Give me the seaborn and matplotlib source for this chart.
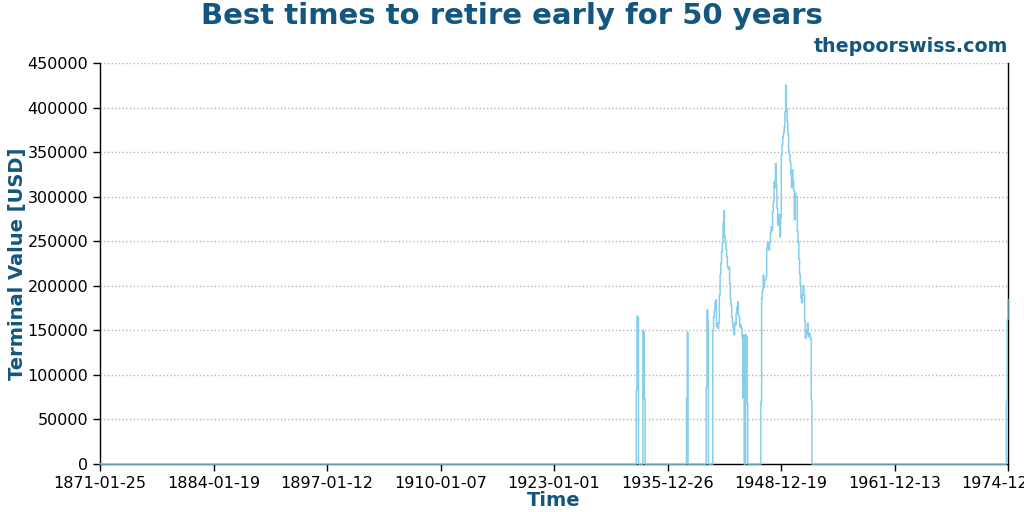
import numpy as np
import pandas as pd
import matplotlib
matplotlib.use('Agg')
import matplotlib.pyplot as plt
import matplotlib.ticker as mticker
import seaborn as sns

# monthly terminal values, zero outside the listed episodes
first_month = '1871-01-01'
last_month = '1974-12-01'

episode_starts = ['1932-06', '1933-03', '1938-03', '1940-06',
                  '1941-03', '1944-12', '1946-09', '1974-10']

ep_1932 = [83000, 166000, 164000]
ep_1933 = [150000, 147000, 73000]
ep_1938 = [74000, 148000]
ep_1940 = [86000, 173000, 160000]
ep_1941 = [150000, 165000, 172000, 181000, 184000, 154000, 158000, 152000,
           158000, 190000, 213000, 225000, 238000, 248000, 270000, 284000,
           255000, 248000, 241000, 232000, 221000, 219000, 221000, 203000,
           186000, 178000, 165000, 156000, 150000, 145000, 159000, 156000,
           169000, 176000, 182000, 167000, 165000, 154000, 156000, 152000,
           143000, 74000, 145000]
ep_1944 = [145000, 143000, 68000]
ep_1946 = [70000, 186000, 195000, 212000, 198000, 206000, 206000, 210000,
           242000, 249000, 243000, 240000, 249000, 259000, 266000, 262000,
           283000, 294000, 317000, 310000, 337000, 313000, 287000, 268000,
           276000, 280000, 255000, 277000, 347000, 358000, 367000, 372000,
           378000, 395000, 425000, 399000, 384000, 370000, 351000, 347000,
           339000, 325000, 310000, 330000, 318000, 307000, 274000, 304000,
           300000, 300000, 261000, 249000, 230000, 213000, 201000, 186000,
           181000, 190000, 200000, 190000, 160000, 141000, 146000, 150000,
           158000, 143000, 147000, 145000, 141000, 72000]
ep_1974 = [70000, 162000, 185000]

episode_values = [ep_1932, ep_1933, ep_1938, ep_1940,
                  ep_1941, ep_1944, ep_1946, ep_1974]

months = pd.date_range(first_month, last_month, freq='MS')
values = pd.Series(0.0, index=months)
for start, vals in zip(episode_starts, episode_values):
    idx = pd.date_range(start, periods=len(vals), freq='MS')
    values.loc[idx] = vals

df = pd.DataFrame({'Time': months, 'Terminal Value [USD]': values.values})

# x ticks: 9 evenly spaced dates across the range
x_start = pd.Timestamp('1871-01-25')
step = pd.Timedelta(days=4742)
xticks = [x_start + i * step for i in range(9)]
df = df[df['Time'] >= x_start]

blue = '#13567f'

sns.set_style('ticks')
plt.rcParams['font.family'] = ['DejaVu Sans']

fig = plt.figure(figsize=(10.24, 5.12), dpi=100)
ax = fig.add_axes([100 / 1024, 48 / 512, 908 / 1024, 401 / 512])

sns.lineplot(data=df, x='Time', y='Terminal Value [USD]', ax=ax,
             color='#87ceeb', linewidth=1.1, estimator=None,
             drawstyle='steps-post', zorder=3, clip_on=False)

ax.set_xlim(xticks[0], xticks[-1])
ax.set_xticks(xticks)
ax.set_xticklabels([t.strftime('%Y-%m-%d') for t in xticks])

ax.set_ylim(0, 450000)
ax.set_yticks(range(0, 450001, 50000))
ax.yaxis.set_major_formatter(mticker.FuncFormatter(lambda v, p: f'{v:.0f}'))

ax.yaxis.grid(True, linestyle=':', color='#b5b5b5', linewidth=1)
ax.xaxis.grid(False)
ax.spines['top'].set_visible(False)
for s in ['left', 'bottom', 'right']:
    ax.spines[s].set_color('black')
    ax.spines[s].set_linewidth(1)
ax.tick_params(axis='both', direction='out', length=5, width=1,
               color='black', labelsize=11.5, labelcolor='black')

ax.set_xlabel('Time', fontsize=14, fontweight='bold', color=blue, labelpad=0)
ax.set_ylabel('Terminal Value [USD]', fontsize=14, fontweight='bold',
              color=blue, labelpad=0)

fig.text(0.5, 1 - 2 / 512, 'Best times to retire early for 50 years',
         ha='center', va='top', fontsize=21, fontweight='bold', color=blue)
ax.text(1.0, 1.027, 'thepoorswiss.com', transform=ax.transAxes,
        ha='right', va='baseline', fontsize=13.7, fontweight='bold', color=blue)

fig.savefig('out.png', dpi=100)
